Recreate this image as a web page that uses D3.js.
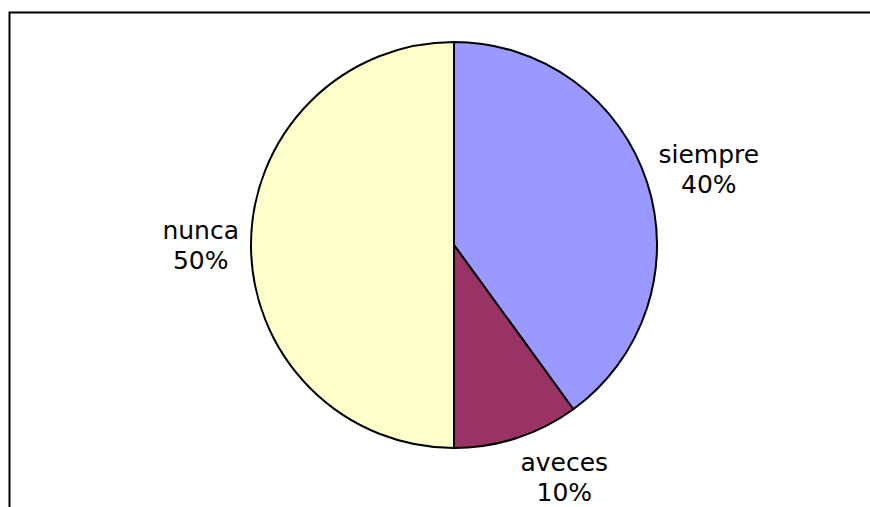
<!DOCTYPE html>
<html>
<head>
<meta charset="utf-8">
<script src="https://cdn.jsdelivr.net/npm/d3@7"></script>
<style>
  body { margin: 0; background: #fff; }
  svg { display: block; }
  text { font-family: "DejaVu Sans", Verdana, sans-serif; font-size: 25px; fill: #000; }
</style>
</head>
<body>
<svg width="870" height="507"></svg>
<script>
var categories = ["siempre", "aveces", "nunca"];
var values = [40, 10, 50];
var colors = ["#9999FF", "#993366", "#FFFFCC"];

var svg = d3.select("svg"),
    width = +svg.attr("width"),
    height = +svg.attr("height");

// chart frame (cropped on right and bottom)
svg.append("path")
    .attr("d", "M9.5," + height + "V12.5H" + width)
    .attr("fill", "none")
    .attr("stroke", "#000")
    .attr("stroke-width", 2);

var cx = 454, cy = 245, r = 203, labelR = 215;

var color = d3.scaleOrdinal().domain(categories).range(colors);

var pie = d3.pie().sort(null).value(function(d) { return d.value; });
var data = categories.map(function(c, i) { return { name: c, value: values[i] }; });
var arcs = pie(data);
var total = d3.sum(values);

var arc = d3.arc().innerRadius(0).outerRadius(r);

var g = svg.append("g").attr("transform", "translate(" + cx + "," + cy + ")");

g.selectAll("path.slice")
    .data(arcs)
    .enter().append("path")
    .attr("class", "slice")
    .attr("d", arc)
    .attr("fill", function(d) { return color(d.data.name); })
    .attr("stroke", "#000")
    .attr("stroke-width", 2)
    .attr("stroke-linejoin", "round");

var label = g.selectAll("text.label")
    .data(arcs)
    .enter().append("text")
    .attr("class", "label")
    .attr("text-anchor", "middle");

label.append("tspan")
    .attr("x", 0)
    .attr("y", 0)
    .text(function(d) { return d.data.name; });

label.append("tspan")
    .attr("x", 0)
    .attr("y", 30)
    .text(function(d) { return Math.round(d.data.value / total * 100) + "%"; });

// place each label box just outside the slice, pushed away from the pie
label.each(function(d) {
    var b = this.getBBox();
    var a = (d.startAngle + d.endAngle) / 2;
    var sx = Math.sin(a), sy = -Math.cos(a);
    var kx = Math.max(-1, Math.min(1, sx * 3.3));
    var px = labelR * sx + kx * b.width / 2;
    var py = labelR * sy + sy * b.height / 2;
    var tx = px - (b.x + b.width / 2);
    var ty = py - (b.y + b.height / 2);
    d3.select(this).attr("transform", "translate(" + tx + "," + ty + ")");
});
</script>
</body>
</html>
